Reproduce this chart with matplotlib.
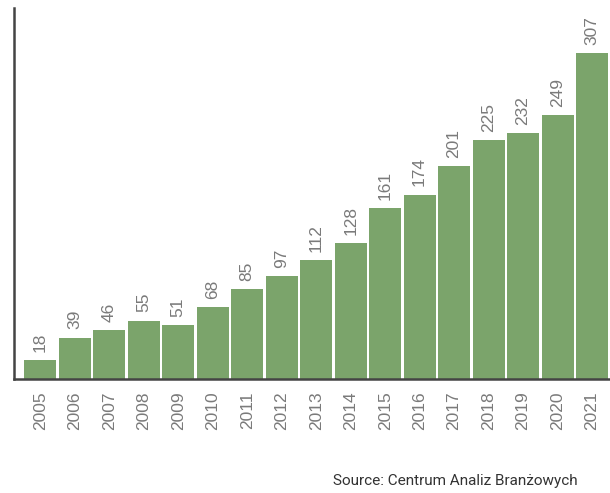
import matplotlib
matplotlib.use("Agg")
from matplotlib import pyplot as plt

years = [str(y) for y in range(2005, 2022)]
values = [18, 39, 46, 55, 51, 68, 85, 97, 112, 128, 161, 174, 201, 225, 232, 249, 307]

BAR_COLOR = "#7ba46b"
TEXT_COLOR = "#7a7a7a"


def main():
    plt.rcParams["font.family"] = ["Liberation Sans", "DejaVu Sans"]
    fig = plt.figure(figsize=(6.1, 4.93), dpi=100)
    ax = fig.add_axes([0.023, 0.231, 0.977, 0.753])

    x = range(len(years))
    bars = ax.bar(x, values, width=0.93, color=BAR_COLOR)

    # value labels above each bar, rotated
    for b, v in zip(bars, values):
        ax.annotate(str(v), (b.get_x() + b.get_width() / 2, b.get_height()),
                    xytext=(0, 6), textcoords="offset points",
                    rotation=90, ha="center", va="bottom",
                    fontsize=12.5, color=TEXT_COLOR)

    ax.set_xticks(list(x))
    ax.set_xticklabels(years, rotation=90, fontsize=12.5, color=TEXT_COLOR)
    ax.tick_params(axis="x", length=0, pad=9)
    ax.set_yticks([])

    ax.set_xlim(-0.76, 16.52)
    ax.set_ylim(0, 350)

    for s in ("top", "right"):
        ax.spines[s].set_visible(False)
    for s in ("left", "bottom"):
        ax.spines[s].set_color("#444444")
        ax.spines[s].set_linewidth(1.8)

    fig.text(0.947, 0.01, "Source: Centrum Analiz Branżowych", ha="right",
             va="bottom", fontsize=11, color="#333333", family="Roboto")

    fig.savefig("out.png", dpi=100)


if __name__ == "__main__":
    main()
